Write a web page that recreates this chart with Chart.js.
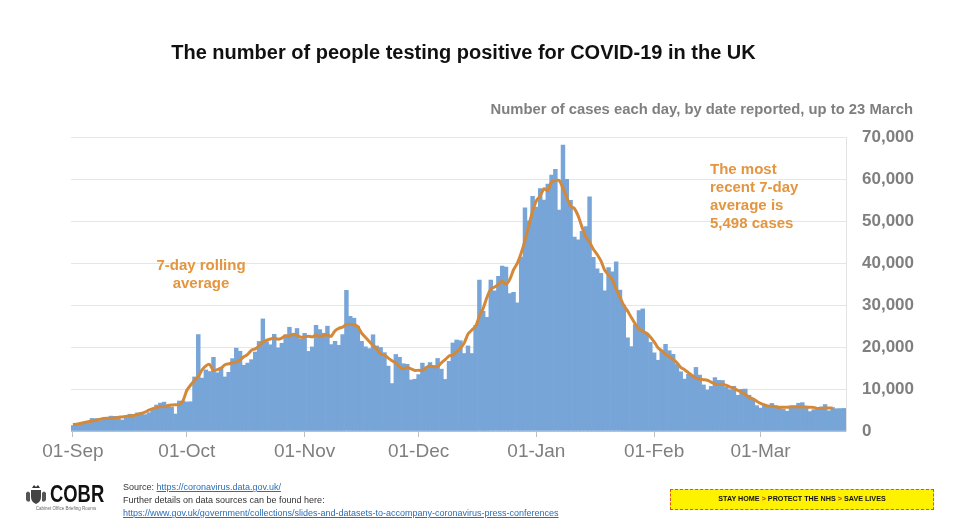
<!DOCTYPE html>
<html>
<head>
<meta charset="utf-8">
<script src="https://cdn.jsdelivr.net/npm/chart.js@4.4.1/dist/chart.umd.min.js"></script>
<style>
  html, body { margin: 0; padding: 0; background: #fff; }
  #wrap { position: relative; width: 960px; height: 531px; overflow: hidden; font-family: 'Liberation Sans', Arial, sans-serif; }
  #chart { position: absolute; left: 0; top: 0; }
  .txt { position: absolute; white-space: nowrap; }
  #title { left: 0; width: 927px; top: 41px; text-align: center; font-size: 20px; font-weight: bold; color: #111; }
  #subtitle { right: 47px; top: 101px; font-size: 14.8px; font-weight: bold; color: #7f7f7f; }
  .note { font-size: 15px; font-weight: bold; color: #e3953f; line-height: 18px; }
  #note1 { left: 101px; width: 200px; top: 256px; text-align: center; }
  #note2 { left: 710px; top: 160px; }
  .foot { font-size: 9px; color: #333; line-height: 13px; }
  .foot a { color: #2a6ebb; text-decoration: underline; }
  #src { left: 123px; top: 481px; }
  #cobr { left: 50px; top: 481px; font-size: 23px; font-weight: bold; color: #111;
          transform: scaleX(0.8); transform-origin: left top; }
  #cobrsub { left: 26px; top: 506px; font-size: 4.5px; color: #666; width: 80px; text-align: center; }
  #crest { position: absolute; left: 25px; top: 484px; }
  #banner { position: absolute; left: 670px; top: 489px; width: 264px; height: 21px; background: #fff200;
            border: 1.5px dashed #e0502a; box-sizing: border-box; text-align: center;
            font-weight: bold; font-size: 7.2px; line-height: 18px; color: #111; }
  #banner span { color: #d2382a; }
</style>
</head>
<body>
<div id="wrap">
  <canvas id="chart" width="960" height="531"></canvas>
  <div class="txt" id="title">The number of people testing positive for COVID-19 in the UK</div>
  <div class="txt" id="subtitle">Number of cases each day, by date reported, up to 23 March</div>
  <div class="txt note" id="note1">7-day rolling<br>average</div>
  <div class="txt note" id="note2">The most<br>recent 7-day<br>average is<br>5,498 cases</div>
  <svg id="crest" width="22" height="22" viewBox="0 0 22 22">
    <path d="M7 4 L9 1 L11 3 L13 1 L15 4 Z" fill="#333"/>
    <path d="M6 6 H16 V13 Q16 18 11 20 Q6 18 6 13 Z" fill="#444"/>
    <path d="M1 9 Q3 6 5 9 L5 17 Q3 19 1 16 Z" fill="#555"/>
    <path d="M21 9 Q19 6 17 9 L17 17 Q19 19 21 16 Z" fill="#555"/>
  </svg>
  <div class="txt" id="cobr">COBR</div>
  <div class="txt" id="cobrsub">Cabinet Office Briefing Rooms</div>
  <div class="txt foot" id="src">
    Source: <a>https://coronavirus.data.gov.uk/</a><br>
    Further details on data sources can be found here:<br>
    <a>https://www.gov.uk/government/collections/slides-and-datasets-to-accompany-coronavirus-press-conferences</a>
  </div>
  <div id="banner">STAY HOME <span>&gt;</span> PROTECT THE NHS <span>&gt;</span> SAVE LIVES</div>
</div>
<script>
// daily cases by date reported, 1 Sep 2020 - 23 Mar 2021
const casesSep = [1295, 1508, 1735, 1940, 1813, 2988, 2948, 2460, 2659, 2919, 3539, 3497, 3330, 2621, 3105, 3991, 3395, 4322, 4422, 3899, 4368, 4926, 6178, 6634, 6874, 6042, 5693, 4044, 7143, 7108];
const casesOct = [6914, 6968, 12872, 22961, 12594, 14542, 14162, 17540, 13864, 15166, 12872, 13972, 17234, 19724, 18980, 15650, 16171, 16982, 18804, 21331, 26688, 21242, 20530, 23012, 19790, 20890, 22885, 24701, 23065, 24405, 21915];
const casesNov = [23254, 18950, 20018, 25177, 24141, 23287, 24957, 20572, 21350, 20412, 22950, 33470, 27301, 26860, 24962, 21363, 20051, 19609, 22915, 20252, 19875, 18662, 15450, 11299, 18213, 17555, 16022, 15871, 12155, 12330];
const casesDec = [13430, 16170, 14879, 16298, 15539, 17272, 14718, 12282, 16578, 20964, 21672, 21502, 18447, 20263, 18450, 25161, 35928, 28507, 27052, 35928, 33364, 36804, 39237, 39036, 32725, 33000, 30501, 41385, 53135, 50023, 55892];
const casesJan = [53285, 57725, 54990, 58784, 60916, 62322, 52618, 68053, 59937, 54940, 46169, 45533, 47525, 48682, 55761, 41346, 38598, 37535, 33355, 38905, 37892, 40261, 33552, 30004, 22195, 20089, 25308, 28680, 29079, 23275, 21088];
const casesFeb = [18607, 16840, 19202, 20634, 19114, 18262, 15845, 14104, 12364, 13494, 13013, 15144, 13308, 10972, 9765, 10625, 12718, 12057, 12027, 10406, 9834, 10641, 8489, 9938, 9985, 8523, 7434, 6035];
const casesMar = [5455, 6391, 5766, 6573, 6040, 5534, 5177, 4712, 5766, 5926, 6609, 6753, 5534, 4618, 5089, 5294, 5758, 6303, 4802, 5587, 5312, 5342, 5379];

// 7-day rolling average line (ends 20 Mar)
const avgSep = [1540, 1610, 1800, 2010, 2190, 2360, 2530, 2760, 3000, 3040, 3000, 3090, 3270, 3340, 3460, 3590, 3670, 3930, 4190, 4500, 4960, 5330, 5560, 5810, 5760, 6070, 6200, 6240, 6260, 7240];
const avgOct = [9710, 10940, 12000, 13010, 14530, 15510, 15840, 14400, 14600, 14990, 15770, 15990, 16240, 16390, 16970, 17660, 18240, 19240, 19560, 20240, 21210, 21610, 21910, 22140, 21860, 22130, 22690, 22530, 23030, 22760, 22340];
const avgNov = [22410, 22560, 22400, 22840, 22460, 22800, 22860, 22540, 23890, 24460, 24730, 25360, 25360, 25310, 24830, 23310, 22310, 21310, 20410, 19570, 18310, 18110, 17360, 16740, 16170, 15240, 14790, 15090, 14800, 14410];
const avgDec = [14460, 14400, 15130, 15470, 15310, 15370, 16240, 17010, 17870, 18030, 18830, 19710, 20940, 23070, 24040, 24840, 27340, 29210, 31830, 33830, 34270, 34870, 35710, 34940, 36090, 38410, 39960, 42370, 45310, 48840, 52340];
const avgJan = [54830, 55940, 57700, 57230, 59340, 59660, 59640, 57840, 55640, 53530, 52970, 51210, 48560, 46230, 44990, 43260, 42030, 40490, 38270, 37170, 35940, 33760, 31860, 29910, 28600, 27000, 25530, 24260, 23740, 23270, 22400];
const avgFeb = [21240, 19810, 19100, 18340, 17700, 17070, 16260, 15170, 14600, 13890, 13200, 12590, 12330, 12210, 12090, 11640, 11230, 11060, 11170, 10870, 10470, 10170, 9670, 9240, 8700, 7970, 7670, 7090];
const avgMar = [6600, 6240, 5970, 5860, 5740, 5660, 5670, 5670, 5790, 5790, 5700, 5760, 5690, 5670, 5630, 5340, 5360, 5460, 5490, 5500, null, null, null];

const monthTicks = ['01-Sep', '01-Oct', '01-Nov', '01-Dec', '01-Jan', '01-Feb', '01-Mar'];
const yTicks = [0, 10000, 20000, 30000, 40000, 50000, 60000, 70000];

const dailyCases = [].concat(casesSep, casesOct, casesNov, casesDec, casesJan, casesFeb, casesMar);
const rollingAvg = [].concat(avgSep, avgOct, avgNov, avgDec, avgJan, avgFeb, avgMar);

const monNames = ['Jan', 'Feb', 'Mar', 'Apr', 'May', 'Jun', 'Jul', 'Aug', 'Sep', 'Oct', 'Nov', 'Dec'];
const dayLabels = [];
for (let i = 0; i < dailyCases.length; i++) {
  const d = new Date(Date.UTC(2020, 8, 1 + i));
  dayLabels.push(String(d.getUTCDate()).padStart(2, '0') + '-' + monNames[d.getUTCMonth()]);
}
const isMonthStart = idx => monthTicks.includes(dayLabels[idx]);

new Chart(document.getElementById('chart'), {
  type: 'bar',
  data: {
    labels: dayLabels,
    datasets: [
      {
        type: 'line',
        data: rollingAvg,
        borderColor: '#d4883a',
        borderWidth: 3,
        pointRadius: 0,
        tension: 0.2,
        order: 0
      },
      {
        data: dailyCases,
        backgroundColor: '#77a5d8',
        barPercentage: 1,
        categoryPercentage: 1,
        order: 1
      }
    ]
  },
  options: {
    responsive: false,
    animation: false,
    layout: { padding: { left: 71, top: 137, right: 0, bottom: 0 } },
    plugins: { legend: { display: false }, tooltip: { enabled: false } },
    scales: {
      x: {
        offset: true,
        afterFit: s => { s.height = 100; },
        grid: {
          offset: false,
          drawOnChartArea: false,
          tickLength: 6,
          color: ctx => isMonthStart(ctx.index) ? '#bfbfbf' : 'rgba(0,0,0,0)'
        },
        border: { display: true, color: '#bfbfbf' },
        ticks: {
          autoSkip: false,
          maxRotation: 0,
          padding: 3,
          color: '#7f7f7f',
          font: { family: "'Liberation Sans', Arial, sans-serif", size: 19 },
          callback: (val, idx) => isMonthStart(idx) ? dayLabels[idx] : ''
        }
      },
      y: {
        position: 'right',
        min: 0,
        max: 70000,
        afterFit: s => { s.width = 114; },
        afterBuildTicks: s => { s.ticks = yTicks.map(v => ({ value: v })); },
        grid: { color: '#e6e6e6', drawTicks: false },
        border: { display: true, color: '#e2e2e2' },
        ticks: {
          padding: 16,
          color: '#7f7f7f',
          font: { family: "'Liberation Sans', Arial, sans-serif", size: 17, weight: 'bold' },
          callback: v => v.toLocaleString('en-US')
        }
      }
    }
  }
});
</script>
</body>
</html>
